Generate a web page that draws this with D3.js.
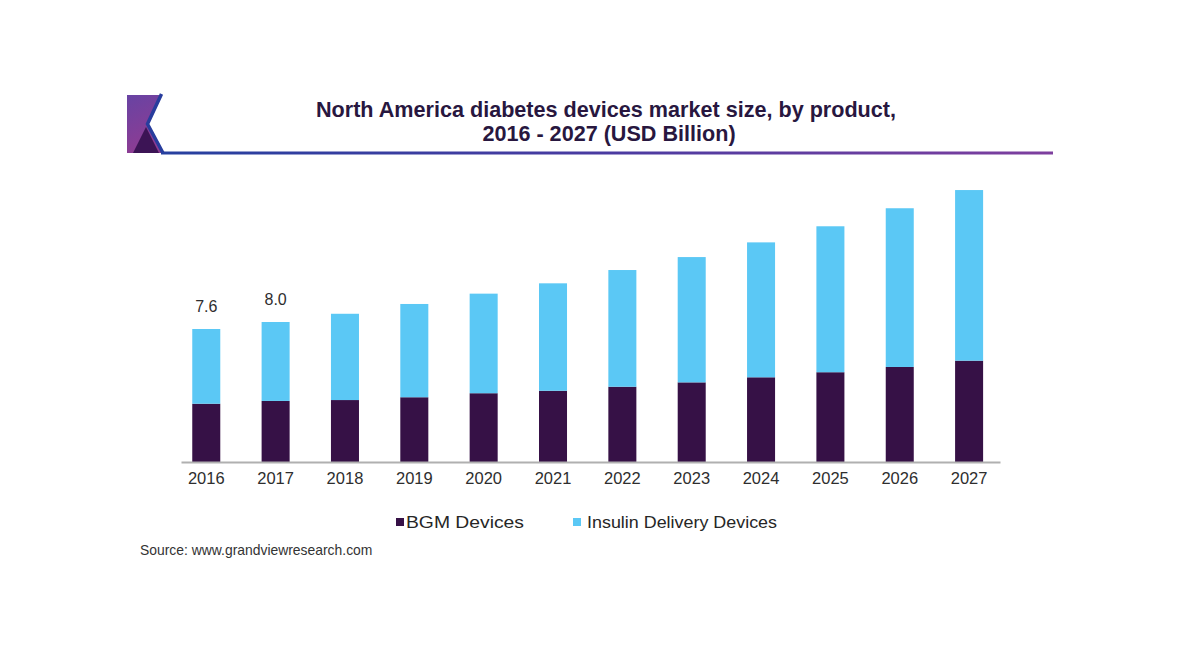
<!DOCTYPE html>
<html>
<head>
<meta charset="utf-8">
<script src="https://cdn.jsdelivr.net/npm/d3@7"></script>
<style>
  html, body { margin: 0; padding: 0; background: #ffffff; }
  svg { display: block; }
  text { font-family: "Liberation Sans", Arial, sans-serif; }
</style>
</head>
<body>
<div id="chart"></div>
<script>
// ---- data ----
const years = ["2016","2017","2018","2019","2020","2021","2022","2023","2024","2025","2026","2027"];
const bgm = [3.33, 3.49, 3.54, 3.70, 3.93, 4.07, 4.30, 4.55, 4.84, 5.13, 5.43, 5.79];
const insulin = [4.27, 4.51, 4.93, 5.33, 5.69, 6.14, 6.67, 7.16, 7.71, 8.34, 9.07, 9.75];
const valueLabels = ["7.6", "8.0", "", "", "", "", "", "", "", "", "", ""];
const seriesNames = ["BGM Devices", "Insulin Delivery Devices"];
const titleLines = ["North America diabetes devices market size, by product,", "2016 - 2027 (USD Billion)"];
const sourceText = "Source: www.grandviewresearch.com";

// ---- setup ----
const W = 1200, H = 650;
const colors = { "BGM Devices": "#361146", "Insulin Delivery Devices": "#5bc8f5" };

const svg = d3.select("#chart").append("svg")
  .attr("width", W).attr("height", H);
svg.append("rect").attr("width", W).attr("height", H).attr("fill", "#ffffff");

const defs = svg.append("defs");
const lg = defs.append("linearGradient").attr("id", "hdrLine")
  .attr("gradientUnits", "userSpaceOnUse")
  .attr("x1", 160).attr("y1", 0).attr("x2", 1053).attr("y2", 0);
lg.append("stop").attr("offset", 0).attr("stop-color", "#26409f");
lg.append("stop").attr("offset", 0.5).attr("stop-color", "#4a3ba1");
lg.append("stop").attr("offset", 1).attr("stop-color", "#7e3f9e");

const pg = defs.append("linearGradient").attr("id", "logoPurple")
  .attr("x1", 0).attr("y1", 0).attr("x2", 0.3).attr("y2", 1);
pg.append("stop").attr("offset", 0).attr("stop-color", "#6843a3");
pg.append("stop").attr("offset", 1).attr("stop-color", "#8e3c93");

// ---- logo ----
const logo = svg.append("g");
logo.append("path")
  .attr("d", "M127,95 L161,95 L147.5,124 L163,153 L127,153 Z")
  .attr("fill", "url(#logoPurple)");
logo.append("path")
  .attr("d", "M133,153 L146,127 L159,153 Z")
  .attr("fill", "#3c1455");
logo.append("path")
  .attr("d", "M161.5,94 L147.5,124 L163,153")
  .attr("fill", "none").attr("stroke", "#283d9d").attr("stroke-width", 3.5);

// header line
svg.append("line")
  .attr("x1", 161).attr("x2", 1053).attr("y1", 153).attr("y2", 153)
  .attr("stroke", "url(#hdrLine)").attr("stroke-width", 3);

// ---- title ----
svg.append("text")
  .attr("x", 606).attr("y", 117)
  .attr("text-anchor", "middle")
  .attr("font-size", 21.6).attr("font-weight", "bold")
  .attr("fill", "#28173f")
  .text(titleLines[0]);
svg.append("text")
  .attr("x", 609).attr("y", 141)
  .attr("text-anchor", "middle")
  .attr("font-size", 21.6).attr("font-weight", "bold")
  .attr("fill", "#28173f")
  .text(titleLines[1]);

// ---- scales ----
const x = d3.scaleBand().domain(years).range([181, 1000])
  .paddingInner(0.596).paddingOuter(0.203).align(0.4);
const y = d3.scaleLinear().domain([0, 16]).range([462, 462 - 16 * 17.5]);

const table = years.map((yr, i) => ({ year: yr, "BGM Devices": bgm[i], "Insulin Delivery Devices": insulin[i], label: valueLabels[i] }));
const stack = d3.stack().keys(seriesNames);
const layers = stack(table);

const bars = svg.append("g");
layers.forEach(layer => {
  bars.append("g").attr("fill", colors[layer.key])
    .selectAll("rect").data(layer).join("rect")
    .attr("x", d => x(d.data.year))
    .attr("width", x.bandwidth())
    .attr("y", d => y(d[1]))
    .attr("height", d => y(d[0]) - y(d[1]));
});

// value labels
svg.append("g").selectAll("text").data(table.filter(d => d.label !== "")).join("text")
  .attr("x", d => x(d.year) + x.bandwidth() / 2)
  .attr("y", d => y(d["BGM Devices"] + d["Insulin Delivery Devices"]) - 17)
  .attr("text-anchor", "middle")
  .attr("font-size", 16)
  .attr("fill", "#2e2e2e")
  .text(d => d.label);

// ---- axis ----
const axis = svg.append("g").attr("transform", "translate(0,462)")
  .call(d3.axisBottom(x).tickSize(0).tickSizeOuter(0).tickPadding(10));
axis.select(".domain").attr("stroke", "#b0b0b0").attr("stroke-width", 2);
axis.selectAll("text")
  .attr("font-family", "'Liberation Sans', Arial, sans-serif")
  .attr("font-size", 16.5)
  .attr("fill", "#2e2e2e");

// ---- legend ----
const legendItems = [
  { name: seriesNames[0], sx: 396, tx: 406, tw: 118 },
  { name: seriesNames[1], sx: 573, tx: 587, tw: 190 }
];
const leg = svg.append("g");
legendItems.forEach(it => {
  leg.append("rect").attr("x", it.sx).attr("y", 518).attr("width", 8).attr("height", 8)
    .attr("fill", colors[it.name]);
  leg.append("text").attr("x", it.tx).attr("y", 528)
    .attr("font-size", 17).attr("fill", "#262626")
    .attr("textLength", it.tw).attr("lengthAdjust", "spacingAndGlyphs")
    .text(it.name);
});

// ---- source ----
svg.append("text")
  .attr("x", 140).attr("y", 555)
  .attr("font-size", 13.9).attr("fill", "#333333")
  .text(sourceText);
</script>
</body>
</html>
